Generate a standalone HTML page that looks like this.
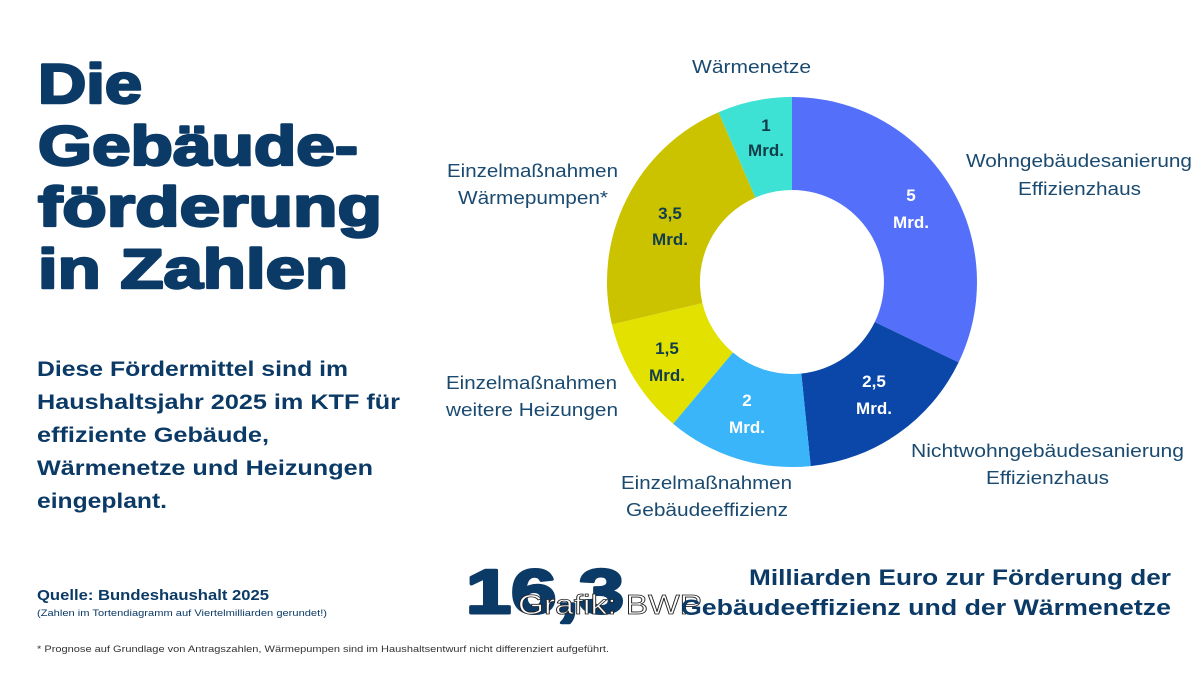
<!DOCTYPE html>
<html><head><meta charset="utf-8"><style>body{margin:0;background:#fff}svg{display:block}</style></head><body>
<svg width="1200" height="675" viewBox="0 0 1200 675" xmlns="http://www.w3.org/2000/svg" font-family="Liberation Sans, sans-serif">
<rect width="1200" height="675" fill="#fff"/>
<g fill="#0b3a66" stroke="#0b3a66" stroke-width="2.5" stroke-linejoin="round" font-weight="bold" font-size="56">
<text x="38" y="103" textLength="104" lengthAdjust="spacingAndGlyphs">Die</text>
<text x="38" y="165" textLength="320" lengthAdjust="spacingAndGlyphs">Gebäude-</text>
<text x="38" y="226" textLength="344" lengthAdjust="spacingAndGlyphs">förderung</text>
<text x="38" y="288" textLength="310" lengthAdjust="spacingAndGlyphs">in Zahlen</text>
</g>
<g fill="#0b3a66" font-weight="bold" font-size="21">
<text x="37" y="376" textLength="311" lengthAdjust="spacingAndGlyphs">Diese Fördermittel sind im</text>
<text x="37" y="409" textLength="363" lengthAdjust="spacingAndGlyphs">Haushaltsjahr 2025 im KTF für</text>
<text x="37" y="442" textLength="232" lengthAdjust="spacingAndGlyphs">effiziente Gebäude,</text>
<text x="37" y="475" textLength="336" lengthAdjust="spacingAndGlyphs">Wärmenetze und Heizungen</text>
<text x="37" y="508" textLength="130" lengthAdjust="spacingAndGlyphs">eingeplant.</text>
</g>
<text x="37" y="600" fill="#0b3a66" font-weight="bold" font-size="15" textLength="232" lengthAdjust="spacingAndGlyphs">Quelle: Bundeshaushalt 2025</text>
<text x="37" y="616" fill="#0b3a66" font-size="9.5" textLength="290" lengthAdjust="spacingAndGlyphs">(Zahlen im Tortendiagramm auf Viertelmilliarden gerundet!)</text>
<text x="37" y="652" fill="#333" font-size="9.5" textLength="572" lengthAdjust="spacingAndGlyphs">* Prognose auf Grundlage von Antragszahlen, Wärmepumpen sind im Haushaltsentwurf nicht differenziert aufgeführt.</text>

<g transform="translate(792,282)">
<path d="M0,-185 A185,185 0 0 1 166.6,80.4 L82.8,40 A92,92 0 0 0 0,-92Z" fill="#5470fb"/>
<path d="M166.6,80.4 A185,185 0 0 1 18.7,184.1 L9.3,91.5 A92,92 0 0 0 82.8,40Z" fill="#0a47a9"/>
<path d="M18.7,184.1 A185,185 0 0 1 -118.9,141.7 L-59.1,70.5 A92,92 0 0 0 9.3,91.5Z" fill="#3bb5f9"/>
<path d="M-118.9,141.7 A185,185 0 0 1 -180.1,42.4 L-89.6,21.1 A92,92 0 0 0 -59.1,70.5Z" fill="#e2e100"/>
<path d="M-180.1,42.4 A185,185 0 0 1 -73.5,-169.8 L-36.6,-84.4 A92,92 0 0 0 -89.6,21.1Z" fill="#cbc300"/>
<path d="M-73.5,-169.8 A185,185 0 0 1 0,-185 L0,-92 A92,92 0 0 0 -36.6,-84.4Z" fill="#3ee2d4"/>
</g>
<g font-weight="bold" font-size="17" text-anchor="middle">
<g fill="#fff"><text x="911" y="201">5</text><text x="911" y="228">Mrd.</text>
<text x="874" y="387">2,5</text><text x="874" y="414">Mrd.</text>
<text x="747" y="406">2</text><text x="747" y="433">Mrd.</text></g>
<g fill="#123d4a"><text x="667" y="354">1,5</text><text x="667" y="381">Mrd.</text>
<text x="670" y="219">3,5</text><text x="670" y="245">Mrd.</text>
<text x="766" y="131">1</text><text x="766" y="156">Mrd.</text></g>
</g>
<g fill="#1a4a70" font-size="18.5" lengthAdjust="spacingAndGlyphs">
<text x="692" y="73" textLength="119" lengthAdjust="spacingAndGlyphs">Wärmenetze</text>
<text x="447" y="177" textLength="171" lengthAdjust="spacingAndGlyphs">Einzelmaßnahmen</text><text x="458" y="204" textLength="150" lengthAdjust="spacingAndGlyphs">Wärmepumpen*</text>
<text x="966" y="167" textLength="226" lengthAdjust="spacingAndGlyphs">Wohngebäudesanierung</text><text x="1018" y="195" textLength="123" lengthAdjust="spacingAndGlyphs">Effizienzhaus</text>
<text x="911" y="457" textLength="273" lengthAdjust="spacingAndGlyphs">Nichtwohngebäudesanierung</text><text x="986" y="484" textLength="123" lengthAdjust="spacingAndGlyphs">Effizienzhaus</text>
<text x="446" y="389" textLength="171" lengthAdjust="spacingAndGlyphs">Einzelmaßnahmen</text><text x="446" y="416" textLength="172" lengthAdjust="spacingAndGlyphs">weitere Heizungen</text>
<text x="621" y="489" textLength="171" lengthAdjust="spacingAndGlyphs">Einzelmaßnahmen</text><text x="626" y="516" textLength="162" lengthAdjust="spacingAndGlyphs">Gebäudeeffizienz</text>
</g>
<text x="466" y="613" fill="#0b3a66" stroke="#0b3a66" stroke-width="3" stroke-linejoin="round" font-weight="bold" font-size="62" textLength="158" lengthAdjust="spacingAndGlyphs">16,3</text>
<text x="518" y="614" fill="#fff" stroke="#222" stroke-width="0.8" font-size="28" textLength="184" lengthAdjust="spacingAndGlyphs">Grafik: BWP</text>
<g fill="#0b3a66" font-weight="bold" font-size="22" text-anchor="end">
<text x="1171" y="585" textLength="422" lengthAdjust="spacingAndGlyphs">Milliarden Euro zur Förderung der</text>
<text x="1171" y="615" textLength="490" lengthAdjust="spacingAndGlyphs">Gebäudeeffizienz und der Wärmenetze</text>
</g>
</svg>
</body></html>
